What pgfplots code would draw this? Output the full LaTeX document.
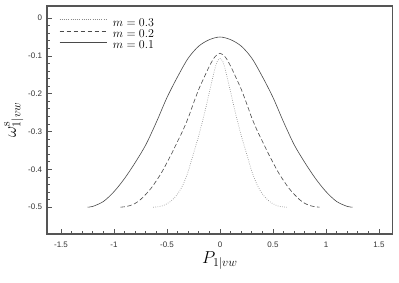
\documentclass[border=0pt]{standalone}
\usepackage[no-math]{fontspec}
\setmainfont{Liberation Sans}
\usepackage{pgfplots}
\pgfplotsset{compat=1.18}
\definecolor{axgray}{HTML}{555555}
\definecolor{cdark}{HTML}{4A4A4A}
\definecolor{cdot}{HTML}{8A8A8A}
\begin{document}
\begin{tikzpicture}
\path[use as bounding box] (-47pt,-48pt) rectangle (352pt,234pt);
\begin{axis}[
  scale only axis, width=345.7pt, height=228pt,
  xmin=-1.632, xmax=1.629, ymin=-0.571, ymax=0.032,
  axis line style={axgray, line width=1.1pt},
  tick align=inside, tick pos=left,
  xtick={-1.5,-1,-0.5,0,0.5,1,1.5},
  ytick={0,-0.1,-0.2,-0.3,-0.4,-0.5},
  minor tick num=4,
  major tick length=5pt, minor tick length=2.8pt,
  every tick/.style={axgray, line width=0.8pt},
  /pgf/number format/assume math mode=true,
  ticklabel style={font=\fontsize{8}{9}\selectfont, text=black!80},
  xticklabel style={yshift=-4pt},
  yticklabel style={xshift=-1.5pt},
  yticklabel={\pgfmathprintnumber[fixed,precision=1]{\tick}},
  xlabel={$P_{1|vw}$},
  ylabel={$\omega^{\mathrm{s}}_{1|vw}$},
  label style={font=\fontsize{17}{17}\selectfont},
  xlabel style={yshift=2pt},
  ylabel style={yshift=-2pt},
  legend style={draw=none, fill=none, inner sep=0pt, column sep=6pt, row sep=3.8pt,
    at={(axis description cs:0.0347,0.942)}, anchor=north west,
    nodes={inner sep=0pt, text height=7pt, text depth=0pt, font=\fontsize{12}{12}\selectfont}},
  legend cell align=left,
  legend image code/.code={\draw[#1] (0pt,3.5pt) -- (47pt,3.5pt);},
]
\addplot[cdot, line width=0.7pt, dash pattern=on 0.6pt off 1.6pt, smooth] coordinates {
(-0.63,-0.500) (-0.6,-0.4995) (-0.55,-0.497) (-0.5,-0.491) (-0.45,-0.481) (-0.4,-0.465)
(-0.35,-0.441) (-0.3,-0.405) (-0.25,-0.358) (-0.2,-0.310) (-0.15,-0.256) (-0.1,-0.196)
(-0.075,-0.165) (-0.05,-0.136) (-0.025,-0.114) (0,-0.107)
(0.025,-0.114) (0.05,-0.136) (0.075,-0.165) (0.1,-0.196) (0.15,-0.256) (0.2,-0.310)
(0.25,-0.358) (0.3,-0.405) (0.35,-0.441) (0.4,-0.465) (0.45,-0.481) (0.5,-0.491)
(0.55,-0.497) (0.6,-0.4995) (0.63,-0.500)};
\addlegendentry{$m=0.3$}
\addplot[cdark, line width=0.6pt, dash pattern=on 4.5pt off 2.5pt, smooth] coordinates {
(-0.94,-0.500) (-0.9,-0.499) (-0.85,-0.496) (-0.8,-0.490) (-0.75,-0.480) (-0.7,-0.466)
(-0.65,-0.450) (-0.6,-0.430) (-0.55,-0.408) (-0.5,-0.382) (-0.45,-0.355) (-0.4,-0.326)
(-0.35,-0.297) (-0.3,-0.264) (-0.25,-0.225) (-0.2,-0.188) (-0.15,-0.157) (-0.1,-0.127)
(-0.05,-0.103) (0,-0.093)
(0.05,-0.103) (0.1,-0.127) (0.15,-0.157) (0.2,-0.188) (0.25,-0.225) (0.3,-0.264)
(0.35,-0.297) (0.4,-0.326) (0.45,-0.355) (0.5,-0.382) (0.55,-0.408) (0.6,-0.430)
(0.65,-0.450) (0.7,-0.466) (0.75,-0.480) (0.8,-0.490) (0.85,-0.496) (0.9,-0.499) (0.94,-0.500)};
\addlegendentry{$m=0.2$}
\addplot[cdark, line width=0.6pt, smooth] coordinates {
(-1.25,-0.500) (-1.2,-0.498) (-1.1,-0.485) (-1.0,-0.459) (-0.9,-0.424) (-0.8,-0.382)
(-0.7,-0.335) (-0.6,-0.275) (-0.5,-0.210) (-0.4,-0.155) (-0.3,-0.106) (-0.2,-0.074)
(-0.1,-0.057) (0,-0.050)
(0.1,-0.057) (0.2,-0.074) (0.3,-0.106) (0.4,-0.155) (0.5,-0.210) (0.6,-0.275)
(0.7,-0.335) (0.8,-0.382) (0.9,-0.424) (1.0,-0.459) (1.1,-0.485) (1.2,-0.498) (1.25,-0.500)};
\addlegendentry{$m=0.1$}
\end{axis}
\end{tikzpicture}
\end{document}
